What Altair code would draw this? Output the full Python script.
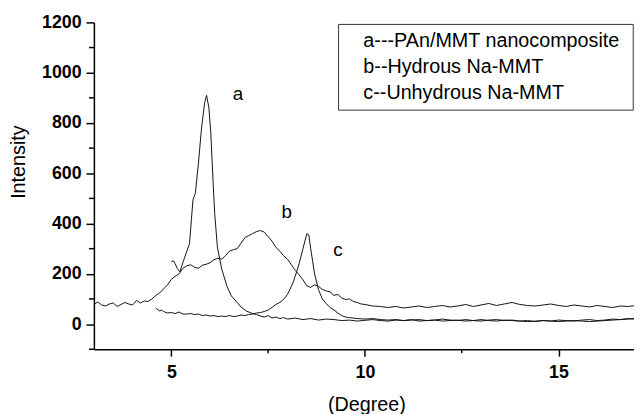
import altair as alt
import pandas as pd

FONT = "Liberation Sans"

# ---- curve a: PAn/MMT nanocomposite ----
a_x = [5.0, 5.05, 5.1, 5.15, 5.22, 5.3, 5.4, 5.47, 5.52, 5.56,
       5.62, 5.7, 5.78, 5.86, 5.91, 5.97, 6.02, 6.08, 6.12, 6.19,
       6.3, 6.44, 6.55, 6.7, 6.8, 6.95, 7.1, 7.2, 7.3, 7.4,
       7.5, 7.6, 7.7, 7.8, 7.9] + [round(8.0 + 0.2 * i, 2) for i in range(46)]
a_y = [248, 252, 240, 222, 208, 245, 290, 320, 420, 495,
       520, 640, 780, 880, 910, 860, 760, 560, 440, 306,
       220, 149, 112, 86, 68, 51, 42, 38, 32, 28,
       34, 24, 28, 22, 26,
       20, 24, 18, 22, 16, 20, 18, 14, 16, 12,
       15, 18, 14, 12, 16, 14, 18, 12, 14, 16,
       20, 16, 14, 18, 14, 12, 16, 18, 14, 16,
       12, 14, 10, 14, 12, 16, 14, 12, 16, 18,
       14, 16, 20, 18, 22, 20]

# ---- curve b: Hydrous Na-MMT ----
b_x = [round(3.0 + 0.1 * i, 2) for i in range(71)] + [round(10.2 + 0.2 * i, 2) for i in range(35)]
b_y = [78, 88, 76, 72, 80, 84, 70, 78, 86, 80,
       76, 94, 84, 92, 90, 100, 114, 124, 140, 156,
       178, 190, 200, 222, 232, 236, 226, 222, 234, 238,
       244, 256, 262, 258, 272, 290, 296, 300, 322, 344,
       352, 360, 368, 372, 366, 348, 330, 306, 290, 272,
       258, 236, 214, 196, 176, 152, 146, 156, 150, 138,
       132, 128, 114, 118, 104, 98, 100, 90, 86, 80,
       78,
       72, 70, 66, 70, 64, 68, 72, 66, 70, 74,
       68, 72, 78, 70, 76, 82, 74, 80, 86, 78,
       74, 72, 76, 80, 74, 70, 76, 72, 68, 74,
       70, 66, 72, 70, 74]

# ---- curve c: Unhydrous Na-MMT ----
c_x = [4.6, 4.7, 4.75, 4.8, 4.9,
       5.0, 5.1, 5.2, 5.3, 5.4, 5.5, 5.6, 5.7, 5.8, 5.9,
       6.0, 6.1, 6.2, 6.3, 6.4, 6.5, 6.6, 6.7, 6.8, 6.9,
       7.0, 7.1, 7.2, 7.3, 7.4, 7.5, 7.6, 7.7, 7.8, 7.9,
       8.0, 8.1, 8.15, 8.2, 8.3, 8.4, 8.45, 8.5, 8.55, 8.6, 8.65, 8.7, 8.8, 8.9,
       9.0, 9.1, 9.2, 9.3, 9.4, 9.5] + [round(9.6 + 0.2 * i, 2) for i in range(38)]
c_y = [63, 52, 56, 50, 44,
       46, 42, 48, 40, 40, 42, 38, 40, 34, 36,
       32, 34, 30, 32, 30, 34, 30, 32, 36, 34,
       38, 40, 44, 46, 50, 56, 66, 78, 86, 98,
       118, 150, 168, 190, 240, 300, 330, 360, 355, 300, 250, 200, 137, 100,
       82, 66, 56, 44, 34, 28,
       26, 22, 20, 22, 18, 16, 18, 14, 16, 18,
       14, 16, 12, 14, 16, 12, 14, 18, 14, 12,
       16, 14, 12, 10, 12, 14, 12, 10, 12, 14,
       12, 10, 12, 14, 16, 18, 20, 22]

# ---- annotations ----
curve_labels = ["a", "b", "c"]
curve_label_x = [6.72, 7.98, 9.3]
curve_label_y = [913, 447, 294]

legend_lines = ["a---PAn/MMT nanocomposite", "b--Hydrous Na-MMT", "c--Unhydrous Na-MMT"]
legend_text_x = [9.96, 9.96, 9.96]
legend_text_y = [1125, 1023, 920]
legend_box = {"x1": [9.32], "x2": [16.93], "y1": [851], "y2": [1192]}

x_ticks = [5, 10, 15]
x_minor = [7.5, 12.5]
y_ticks = [0, 200, 400, 600, 800, 1000, 1200]
y_minor = [-100, 100, 300, 500, 700, 900, 1100]

rows = []
for name, xs, ys in [("a", a_x, a_y), ("b", b_x, b_y), ("c", c_x, c_y)]:
    for xv, yv in zip(xs, ys):
        rows.append({"series": name, "x": xv, "y": yv})
df = pd.DataFrame(rows)

x_scale = alt.Scale(domain=[3, 16.95], nice=False, zero=False)
y_scale = alt.Scale(domain=[-100, 1200], nice=False, zero=False)

x_axis = alt.Axis(values=x_ticks, title="(Degree)", grid=False, format="d",
                  labelFont=FONT, labelFontSize=18, labelFontWeight="bold", labelColor="black",
                  labelPadding=8, labelFlush=False, labelOverlap=False,
                  tickSize=7, tickWidth=1.5, tickColor="black",
                  domainColor="black", domainWidth=1.5,
                  titleFont=FONT, titleFontSize=20, titleFontWeight="normal", titleColor="black",
                  titleX=276, titleY=56, titleBaseline="middle", titleAlign="center")
y_axis = alt.Axis(values=y_ticks, title="Intensity", grid=False, format="d",
                  labelFont=FONT, labelFontSize=18, labelFontWeight="bold", labelColor="black",
                  labelPadding=5, labelFlush=False, labelOverlap=False,
                  tickSize=8, tickWidth=1.5, tickColor="black",
                  domainColor="black", domainWidth=1.5,
                  titleFont=FONT, titleFontSize=20, titleFontWeight="normal", titleColor="black",
                  titleX=-76, titleY=141, titleBaseline="middle", titleAlign="center")

lines = alt.Chart(df).mark_line(color="#111111", strokeWidth=1, clip=True).encode(
    x=alt.X("x:Q", scale=x_scale, axis=x_axis),
    y=alt.Y("y:Q", scale=y_scale, axis=y_axis),
    detail="series:N",
)

ymin_df = pd.DataFrame({"v": y_minor})
y_minor_ticks = alt.Chart(ymin_df).mark_rule(color="black", strokeWidth=1.5).encode(
    y=alt.Y("v:Q", scale=y_scale, axis=y_axis),
    x=alt.value(-5), x2=alt.value(0),
)
xmin_df = pd.DataFrame({"v": x_minor})
x_minor_ticks = alt.Chart(xmin_df).mark_rule(color="black", strokeWidth=1.5).encode(
    x=alt.X("v:Q", scale=x_scale, axis=x_axis),
    y=alt.value(331), y2=alt.value(335),
)

box = alt.Chart(pd.DataFrame(legend_box)).mark_rect(fill="white", stroke="#333333", strokeWidth=1).encode(
    x=alt.X("x1:Q", scale=x_scale, axis=x_axis), x2="x2:Q",
    y=alt.Y("y1:Q", scale=y_scale, axis=y_axis), y2="y2:Q",
)

leg_df = pd.DataFrame({"t": legend_lines, "x": legend_text_x, "y": legend_text_y})
leg_text = alt.Chart(leg_df).mark_text(align="left", baseline="middle", font=FONT, fontSize=20, color="black").encode(
    x=alt.X("x:Q", scale=x_scale, axis=x_axis),
    y=alt.Y("y:Q", scale=y_scale, axis=y_axis),
    text="t:N",
)

lab_df = pd.DataFrame({"t": curve_labels, "x": curve_label_x, "y": curve_label_y})
lab_text = alt.Chart(lab_df).mark_text(align="center", baseline="middle", font=FONT, fontSize=19, color="black").encode(
    x=alt.X("x:Q", scale=x_scale, axis=x_axis),
    y=alt.Y("y:Q", scale=y_scale, axis=y_axis),
    text="t:N",
)

chart = alt.layer(lines, y_minor_ticks, x_minor_ticks, box, leg_text, lab_text).properties(
    width=547, height=331,
    autosize=alt.AutoSizeParams(type="none"),
    padding={"left": 87, "top": 12, "right": 0, "bottom": 63},
    background="white",
).configure_view(stroke=None)

chart.save("out.html", embed_options={"renderer": "svg", "actions": False})
